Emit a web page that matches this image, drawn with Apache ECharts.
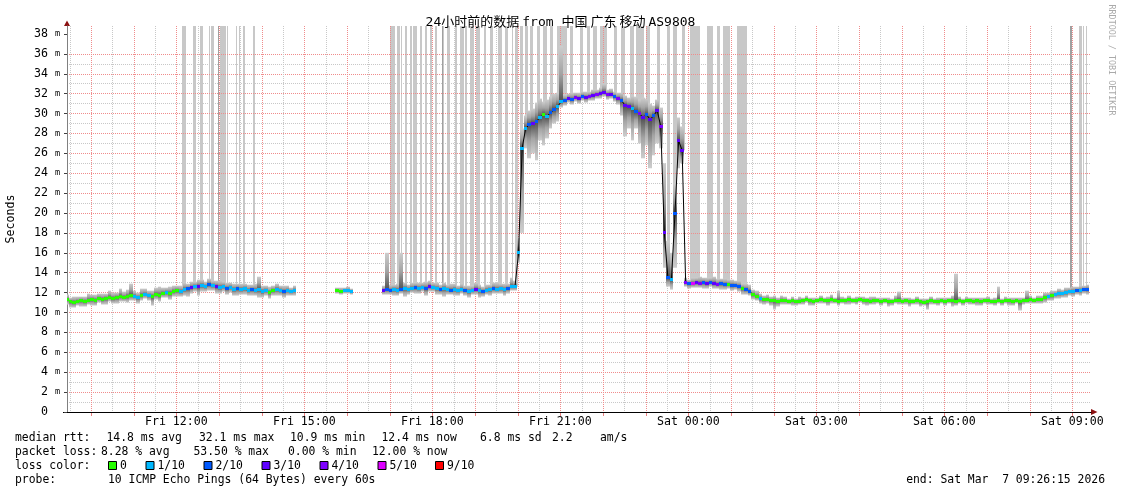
<!DOCTYPE html>
<html><head><meta charset="utf-8">
<script src="https://cdn.jsdelivr.net/npm/echarts@6/dist/echarts.min.js"></script>
<style>html,body{margin:0;padding:0;background:#fff}#c{width:1121px;height:494px}</style>
</head><body><div id="c"></div>
<script>
// ---- time frame (hours since Fri 00:00) ----
const START = 9.4375;          // Fri 09:26:15
const END = 33.4375;           // Sat 09:26:15
const STEP = 1 / 12;           // 5 minute samples
const Y_MAX = 38.8;

// ---- median rtt (ms), one value per 5 minutes ----
const median = [
11.3,11.1,11.0,11.1,11.2,11.1,11.2,11.3,11.2,11.4,
11.3,11.4,11.5,11.4,11.5,11.6,11.5,11.6,11.7,11.6,
11.5,11.7,11.8,11.7,11.6,11.8,11.7,11.9,12.0,11.9,
12.1,12.2,12.1,12.3,12.4,12.5,12.6,12.6,12.7,12.6,
12.8,12.7,12.6,12.5,12.6,12.4,12.5,12.3,12.4,12.3,
12.4,12.2,12.3,12.2,12.3,12.1,12.2,12.0,12.2,12.3,
12.2,12.1,12.2,12.1,12.2,null,null,null,null,null,
null,null,null,null,null,null,12.2,12.1,12.2,12.2,
12.1,null,null,null,null,null,null,null,null,12.2,
12.3,12.2,12.3,12.2,12.3,12.4,12.3,12.4,12.5,12.4,
12.5,12.4,12.6,12.5,12.4,12.3,12.4,12.3,12.2,12.3,
12.2,12.3,12.2,12.1,12.2,12.3,12.2,12.1,12.2,12.3,
12.4,12.3,12.4,12.3,12.4,12.6,12.6,16.0,26.5,28.5,
28.9,29.0,29.2,29.6,29.9,29.7,30.1,30.4,30.7,31.2,
31.3,31.5,31.4,31.6,31.5,31.7,31.6,31.7,31.8,31.9,
32.0,32.1,31.9,31.9,31.7,31.5,31.3,30.8,30.7,30.5,
30.2,30.0,29.6,29.9,29.4,29.8,30.3,28.7,18.0,13.5,
13.3,20.0,27.3,26.3,13.0,12.9,12.9,13.0,12.9,13.0,
12.9,13.0,12.9,12.8,12.9,12.8,12.8,12.7,12.7,12.6,
12.4,12.3,12.1,11.8,11.6,11.4,11.3,11.3,11.2,11.2,
11.1,11.2,11.2,11.1,11.2,11.1,11.1,11.2,11.3,11.2,
11.1,11.2,11.3,11.2,11.2,11.3,11.2,11.1,11.2,11.2,
11.3,11.2,11.2,11.3,11.2,11.2,11.1,11.2,11.2,11.1,
11.2,11.1,11.1,11.2,11.2,11.1,11.2,11.1,11.1,11.2,
11.1,11.0,11.1,11.2,11.1,11.1,11.2,11.1,11.2,11.2,
11.1,11.2,11.1,11.2,11.2,11.1,11.2,11.1,11.2,11.2,
11.1,11.1,11.2,11.1,11.2,11.2,11.1,11.2,11.1,11.2,
11.2,11.3,11.2,11.3,11.3,11.5,11.6,11.7,11.8,11.9,
11.9,12.0,12.1,12.1,12.2,12.2,12.3,12.3,null
];

// ---- smoke spread above / below the median (ms) ----
const smokeUp = [
0.5,0.4,0.6,0.5,0.4,0.5,0.7,0.5,0.6,0.5,
0.6,0.5,0.7,0.6,0.5,0.8,0.6,0.7,1.2,0.6,
0.5,0.7,0.6,0.5,0.6,0.7,0.9,0.6,0.5,0.7,
0.6,0.5,0.6,0.7,0.5,0.6,0.5,0.7,0.6,0.5,
0.6,0.5,0.6,0.7,0.5,0.6,0.5,0.6,0.5,0.6,
0.5,0.6,0.5,0.7,1.3,0.6,0.5,0.6,0.5,0.6,
0.5,0.6,0.5,0.4,0.5,null,null,null,null,null,
null,null,null,null,null,null,0.3,0.4,0.3,0.4,
0.3,null,null,null,null,null,null,null,null,0.5,
3.7,0.6,0.5,0.7,3.7,0.6,0.5,0.6,0.5,0.6,
0.5,0.7,0.6,0.5,0.6,0.5,0.6,0.5,0.7,0.6,
0.5,0.6,0.5,0.6,0.5,0.7,0.6,0.5,0.6,0.5,
0.6,0.7,0.5,0.6,0.5,0.9,0.6,1.5,2.0,1.3,
1.4,1.5,1.9,1.9,1.3,1.7,1.6,1.6,1.4,5.6,
0.6,0.5,0.7,0.5,0.6,0.5,0.6,0.5,0.6,0.5,
0.6,0.9,0.5,0.6,0.5,0.6,0.8,1.0,0.9,1.3,
1.5,1.4,2.0,1.6,1.6,1.0,1.1,1.9,7.0,3.7,
2.7,3.0,2.3,2.4,0.5,0.4,0.6,0.5,0.7,0.5,
0.6,0.5,0.7,0.6,0.5,0.6,0.5,0.6,0.5,0.6,
0.5,0.6,0.7,0.5,0.6,0.5,0.4,0.5,0.4,0.5,
0.4,0.5,0.4,0.3,0.4,0.3,0.5,0.3,0.4,0.3,
0.4,0.3,0.4,0.3,0.4,0.5,0.3,1.1,0.4,0.3,
0.4,0.3,0.4,0.3,0.4,0.3,0.5,0.4,0.3,0.4,
0.3,0.4,0.3,0.5,0.9,0.4,0.3,0.4,0.3,0.4,
0.3,0.4,0.3,0.4,0.3,0.4,0.3,0.4,0.3,0.5,
2.8,0.4,0.3,0.4,0.3,0.4,0.3,0.4,0.3,0.4,
0.3,0.4,1.4,0.3,0.4,0.3,0.4,0.3,0.4,0.3,
1.0,0.4,0.3,0.4,0.4,0.5,0.4,0.5,0.4,0.5,
0.4,0.5,0.4,0.5,0.4,0.5,0.4,0.5,null
];
const smokeDown = [
0.5,0.6,0.5,0.4,0.6,0.5,0.4,0.6,0.5,0.4,
0.5,0.6,0.4,0.5,0.6,0.5,0.4,0.6,0.5,0.4,
0.6,0.5,0.4,0.5,0.9,0.5,0.6,0.4,0.5,0.6,
0.5,0.6,0.5,0.6,0.8,0.6,0.5,0.9,0.6,0.5,
0.6,0.5,0.7,0.6,0.5,0.6,0.5,0.6,0.7,0.5,
0.6,0.5,0.6,0.5,0.8,0.6,0.5,0.6,0.5,0.6,
0.5,0.6,0.5,0.4,0.5,null,null,null,null,null,
null,null,null,null,null,null,0.3,0.3,0.3,0.3,
0.3,null,null,null,null,null,null,null,null,0.4,
0.5,0.4,0.6,0.5,0.4,0.8,0.5,0.4,0.6,0.5,
0.4,0.7,0.5,0.4,0.6,0.5,0.8,0.5,0.4,0.6,
0.5,0.4,0.5,0.6,0.4,0.5,0.7,0.5,0.4,0.6,
0.5,0.4,0.5,0.6,0.5,0.4,0.4,1.0,8.5,2.0,
3.4,3.0,3.9,2.3,3.1,2.2,1.6,1.4,1.5,0.6,
0.5,0.4,0.5,0.4,0.5,0.4,0.5,0.4,0.5,0.4,
0.5,0.4,0.5,0.4,0.5,0.6,1.5,3.1,2.2,3.2,
1.7,3.0,4.1,3.1,4.9,4.0,3.3,2.2,3.5,0.9,
1.0,5.5,2.8,1.3,0.4,0.5,0.4,0.5,0.4,0.6,
0.5,0.4,0.5,0.4,0.6,0.5,0.4,0.5,0.4,0.5,
0.6,0.5,0.4,0.5,0.4,0.5,0.5,0.4,0.5,0.9,
0.5,0.4,0.4,0.3,0.5,0.4,0.3,0.4,0.3,0.5,
0.4,0.3,0.4,0.3,0.5,0.4,0.3,0.4,0.3,0.4,
0.5,0.3,0.4,0.3,0.4,0.5,0.3,0.4,0.3,0.4,
0.3,0.5,0.4,0.3,0.4,0.3,0.4,0.5,0.3,0.4,
0.5,0.3,0.8,0.4,0.3,0.4,0.3,0.4,0.3,0.6,
0.4,0.3,0.4,0.3,0.4,0.3,0.5,0.4,0.3,0.4,
0.3,0.4,0.3,0.4,0.3,0.5,0.4,0.3,0.9,0.4,
0.3,0.4,0.3,0.4,0.4,0.5,0.4,0.5,0.4,0.5,
0.4,0.5,0.4,0.5,0.4,0.5,0.4,0.5,null
];

// ---- lost pings out of 10 per sample (loss colour) ----
const loss = [
0,0,0,0,0,0,0,0,0,0,
0,0,0,0,0,0,0,0,0,1,
1,0,1,1,0,0,0,0,1,0,
0,0,1,1,2,3,1,3,1,1,
2,1,3,1,1,2,1,1,2,1,
1,1,2,1,1,1,1,0,0,1,
1,2,1,1,1,null,null,null,null,null,
null,null,null,null,null,null,0,0,1,1,
1,null,null,null,null,null,null,null,null,3,
2,2,1,1,2,1,1,1,2,1,
1,2,3,1,1,2,1,1,2,1,
1,1,2,1,1,3,1,2,1,1,
2,1,1,1,2,1,1,1,1,1,
2,3,2,1,0,1,2,2,1,1,
2,3,2,4,3,2,3,4,3,4,
3,3,4,3,2,4,2,3,3,1,
2,4,3,2,3,2,3,4,3,2,
1,2,3,3,4,2,5,3,4,2,
3,2,3,4,2,2,0,2,2,2,
0,2,2,0,0,1,0,0,0,0,
0,0,0,0,0,0,0,0,0,0,
0,0,0,0,0,0,0,0,0,0,
0,0,0,0,0,0,0,0,0,0,
0,0,0,0,0,0,0,0,0,0,
0,0,0,0,0,0,0,0,0,0,
0,0,0,0,0,0,0,0,0,0,
0,0,0,0,0,0,0,0,0,0,
0,0,0,0,0,0,1,0,1,1,
1,1,1,1,2,1,2,2,null
];

// ---- periods with lost pings (full height smoke), [from, to, darker] ----
const lossBars = [
['Fri 12:08','Fri 12:13',0],['Fri 12:23','Fri 12:28',0],['Fri 12:33','Fri 12:37',0],
['Fri 12:46','Fri 12:48',0],['Fri 12:49','Fri 12:53',0],['Fri 12:58','Fri 13:00',1],
['Fri 13:01','Fri 13:10',0],['Fri 13:11','Fri 13:12',0],['Fri 13:24','Fri 13:26',0],
['Fri 13:28','Fri 13:30',0],['Fri 13:34','Fri 13:36',0],['Fri 13:48','Fri 13:50',0],
['Fri 17:00','Fri 17:08',0],['Fri 17:11','Fri 17:14',0],['Fri 17:16','Fri 17:18',0],
['Fri 17:22','Fri 17:24',0],['Fri 17:28','Fri 17:31',0],['Fri 17:33','Fri 17:38',0],
['Fri 17:43','Fri 17:45',0],['Fri 17:50','Fri 17:52',0],['Fri 17:57','Fri 18:00',0],
['Fri 18:04','Fri 18:06',0],['Fri 18:13','Fri 18:16',0],['Fri 18:14','Fri 18:15',1],
['Fri 18:20','Fri 18:25',0],['Fri 18:32','Fri 18:35',0],['Fri 18:39','Fri 18:44',0],
['Fri 18:46','Fri 18:49',0],['Fri 18:53','Fri 18:58',0],['Fri 19:02','Fri 19:07',0],
['Fri 19:12','Fri 19:16',0],['Fri 19:21','Fri 19:26',0],['Fri 19:33','Fri 19:38',0],
['Fri 19:42','Fri 19:47',0],['Fri 19:52','Fri 19:54',0],['Fri 19:56','Fri 20:01',0],
['Fri 20:03','Fri 20:08',0],['Fri 20:11','Fri 20:15',0],['Fri 20:17','Fri 20:22',0],
['Fri 20:27','Fri 20:31',0],['Fri 20:36','Fri 20:41',0],['Fri 20:46','Fri 20:50',0],
['Fri 20:55','Fri 21:09',0],['Fri 21:14','Fri 21:18',0],['Fri 21:28','Fri 21:32',0],
['Fri 21:37','Fri 21:42',0],['Fri 21:46','Fri 21:51',0],['Fri 21:56','Fri 22:05',0],
['Fri 22:15','Fri 22:19',0],['Fri 22:26','Fri 22:31',0],['Fri 22:38','Fri 22:43',0],
['Fri 22:47','Fri 22:57',0],['Fri 23:01','Fri 23:06',0],['Fri 23:16','Fri 23:20',0],
['Fri 23:30','Fri 23:34',0],['Fri 23:39','Fri 23:44',0],['Fri 23:51','Fri 23:55',0],
['Sat 00:02','Sat 00:16',0],['Sat 00:26','Sat 00:35',0],['Sat 00:40','Sat 00:45',0],
['Sat 00:49','Sat 00:59',0],['Sat 01:08','Sat 01:22',0],
['Sat 08:57','Sat 08:59',1],['Sat 09:09','Sat 09:13',0],['Sat 09:15','Sat 09:17',0],
['Sat 09:19','Sat 09:21',0]
];

// ---- axes ----
const hourTicks = [10,11,12,13,14,15,16,17,18,19,20,21,22,23,24,25,26,27,28,29,30,31,32,33];
const halfHourTicks = [9.5,10.5,11.5,12.5,13.5,14.5,15.5,16.5,17.5,18.5,19.5,20.5,21.5,22.5,23.5,24.5,25.5,26.5,27.5,28.5,29.5,30.5,31.5,32.5];
const xLabelHours = [12,15,18,21,24,27,30,33];
const yMajor = [0,2,4,6,8,10,12,14,16,18,20,22,24,26,28,30,32,34,36,38];
const yMinor = [1,3,5,7,9,11,13,15,17,19,21,23,25,27,29,31,33,35,37];

// ---- legend ----
const lossLevels = [0,1,2,3,4,5,9];
const lossLabels = ['0','1/10','2/10','3/10','4/10','5/10','9/10'];
const lossColors = ['#26ff00','#00b8ff','#0059ff','#5e00ff','#7e00ff','#dd00ff','#ff0000'];
const titleText = '24小时前的数据{s| }from 中国{s| }广东{s| }移动{s| }AS9808';
const statRows = [
  ['median rtt:','14.8 ms avg','32.1 ms max','10.9 ms min','12.4 ms now','6.8 ms sd','2.2','am/s'],
  ['packet loss:','8.28 % avg','53.50 % max','0.00 % min','12.00 % now'],
  ['loss color:'],
  ['probe:','10 ICMP Echo Pings (64 Bytes) every 60s']
];
const endText = 'end: Sat Mar  7 09:26:15 2026';

// ---------------------------------------------------------------
[median, smokeUp, smokeDown, loss].forEach((a, k) => {
  if (a.length !== 289) throw new Error('array ' + k + ' has length ' + a.length);
});

const MONO = '"DejaVu Sans Mono", "Liberation Mono", monospace';
const MONO_CJK = '"DejaVu Sans Mono", "Noto Sans CJK SC", monospace';

function clock(s) {
  const [d, hm] = s.split(' ');
  const [h, m] = hm.split(':').map(Number);
  return (d === 'Sat' ? 24 : 0) + h + m / 60;
}
function medianAt(h) {
  const i = Math.round((h - START) / STEP);
  for (let d = 0; d < 8; d++) {
    for (const j of [i - d, i + d]) {
      if (j >= 0 && j < median.length && median[j] != null) return median[j];
    }
  }
  return 0;
}
function colorOfLoss(n) {
  const k = lossLevels.indexOf(n);
  return k >= 0 ? lossColors[k] : lossColors[6];
}
function hourLabel(h) {
  const day = h < 24 ? 'Fri' : 'Sat';
  const hh = String(Math.round(h) % 24).padStart(2, '0');
  return day + ' ' + hh + ':00';
}

const lineData = [], smokeData = [], dotData = [];
median.forEach((m, i) => {
  const t = START + i * STEP;
  lineData.push([t, m]);
  if (m == null) return;
  smokeData.push([t, m - smokeDown[i], m + smokeUp[i], m]);
  dotData.push([t, m, loss[i]]);
});
const barData = lossBars.map(([a, b, s]) => {
  const t0 = clock(a), t1 = clock(b);
  return [t0, t1, s, medianAt((t0 + t1) / 2)];
});
const vGridData = hourTicks.map(h => [h, 1]).concat(halfHourTicks.map(h => [h, 0]));

function clampX(x, cs) { return Math.min(cs.x + cs.width, Math.max(cs.x, x)); }

const chart = echarts.init(document.getElementById('c'), null, {renderer: 'canvas'});

const graphics = [];
graphics.push({type: 'text', x: 10.5, y: 219, rotation: Math.PI / 2,
  style: {text: 'Seconds', fontSize: 11.6, fontFamily: MONO, fill: '#000', align: 'center', verticalAlign: 'middle'}});
graphics.push({type: 'text', x: 1111, y: 60, rotation: -Math.PI / 2,
  style: {text: 'RRDTOOL / TOBI OETIKER', fontSize: 8.4, fontFamily: MONO, fill: '#aaaaaa', align: 'center', verticalAlign: 'middle'}});
graphics.push({type: 'polygon', shape: {points: [[64, 26], [70, 26], [67, 20.5]]}, style: {fill: '#8b1010'}});
graphics.push({type: 'polygon', shape: {points: [[1091, 409], [1091, 415], [1097.5, 412]]}, style: {fill: '#8b1010'}});
graphics.push({type: 'line', shape: {x1: 63, y1: 412.5, x2: 67, y2: 412.5}, style: {stroke: '#000', lineWidth: 1}});
const rowY = [438, 452, 466, 480];
const rowX = [
  [15, 106.5, 199, 290, 381.5, 480, 552, 600],
  [15, 101, 193.5, 288, 372],
  [15],
  [15, 108]
];
statRows.forEach((row, r) => {
  row.forEach((txt, k) => {
    graphics.push({type: 'text', x: rowX[r][k], y: rowY[r],
      style: {text: txt, fontSize: 11.4, fontFamily: MONO, fill: '#000', verticalAlign: 'middle'}});
  });
});
const squareX = [108, 145.5, 203.5, 261.5, 319.5, 377.5, 435];
lossLabels.forEach((lab, k) => {
  graphics.push({type: 'rect', shape: {x: squareX[k] + 0.5, y: 461.5, width: 8, height: 8},
    style: {fill: lossColors[k], stroke: '#000', lineWidth: 1}});
  graphics.push({type: 'text', x: squareX[k] + 12, y: 466,
    style: {text: lab, fontSize: 11.4, fontFamily: MONO, fill: '#000', verticalAlign: 'middle'}});
});
graphics.push({type: 'text', x: 1105, y: 480,
  style: {text: endText, fontSize: 11.4, fontFamily: MONO, fill: '#000', align: 'right', verticalAlign: 'middle'}});

const option = {
  animation: false,
  backgroundColor: '#ffffff',
  title: {
    text: titleText, left: 'center', top: 11,
    textStyle: {fontFamily: MONO_CJK, fontSize: 13, fontWeight: 'normal', color: '#000',
      rich: {s: {fontSize: 5, fontFamily: MONO}}}
  },
  grid: {left: 67, right: 30, top: 26, bottom: 82, outerBoundsMode: 'none'},
  xAxis: [{
    type: 'value', min: START, max: END, position: 'bottom', z: 2,
    axisLine: {show: true, onZero: false, lineStyle: {color: '#000', width: 1}},
    axisTick: {show: false},
    axisLabel: {customValues: xLabelHours, formatter: hourLabel, color: '#000', fontFamily: MONO, fontSize: 11.6, margin: 4},
    splitLine: {show: false},
    minorTick: {show: false}, minorSplitLine: {show: false}
  }],
  yAxis: [{
    type: 'value', min: 0, max: Y_MAX, position: 'left', z: 2,
    axisLine: {show: true, onZero: false, lineStyle: {color: '#808080', width: 1}},
    axisTick: {show: true, customValues: yMajor, length: 3, lineStyle: {color: '#404040'}},
    axisLabel: {customValues: yMajor, margin: 7, color: '#000',
      formatter: v => (v === 0 ? '{n|0 }{u| }' : '{n|' + v + ' }{u|m}'),
      rich: {n: {fontFamily: MONO, fontSize: 11.6, color: '#000'}, u: {fontFamily: MONO, fontSize: 8.5, color: '#000'}}},
    splitLine: {show: true, showMaxLine: false, lineStyle: {color: '#f08c8c', width: 1, type: [1, 1]}}
  }, {
    type: 'value', min: 0, max: Y_MAX, position: 'right', z: 1.9,
    axisLine: {show: false},
    axisTick: {show: false, customValues: yMinor},
    axisLabel: {show: false, customValues: yMinor},
    splitLine: {show: true, showMaxLine: false, lineStyle: {color: '#c8c8c8', width: 1, type: [1, 1]}}
  }],
  series: [{
    name: 'loss', type: 'custom', z: 1, silent: true,
    xAxisIndex: 0, yAxisIndex: 0,
    data: barData,
    encode: {x: [0, 1], y: 3},
    renderItem(params, api) {
      const s = api.value(0), e = api.value(1), shade = api.value(2), base = api.value(3);
      const a = api.coord([s, Y_MAX]), b = api.coord([e, base]);
      const cs = params.coordSys;
      const x0 = clampX(Math.round(a[0]), cs);
      const x1 = Math.max(x0 + 1, clampX(Math.round(b[0]), cs));
      return {type: 'rect', shape: {x: x0, y: a[1], width: x1 - x0, height: b[1] - a[1]},
        style: {fill: shade ? '#a0a0a0' : '#c8c8c8'}};
    }
  }, {
    name: 'vgrid', type: 'custom', z: 2, silent: true,
    xAxisIndex: 0, yAxisIndex: 0,
    data: vGridData,
    encode: {x: 0},
    renderItem(params, api) {
      const h = api.value(0), major = api.value(1);
      const top = api.coord([h, Y_MAX]), bot = api.coord([h, 0]);
      const x = Math.round(top[0]) + 0.5;
      const col = major ? '#f08c8c' : '#c8c8c8';
      const children = [{type: 'line', shape: {x1: x, y1: Math.round(top[1]), x2: x, y2: Math.round(bot[1])},
        style: {stroke: col, lineWidth: 1, lineDash: [1, 1]}}];
      if (major) children.push({type: 'line', shape: {x1: x, y1: Math.round(bot[1]) + 1, x2: x, y2: Math.round(bot[1]) + 4},
        style: {stroke: '#e88080', lineWidth: 1}});
      return {type: 'group', children};
    }
  }, {
    name: 'smoke', type: 'custom', z: 3, silent: true,
    xAxisIndex: 0, yAxisIndex: 0,
    data: smokeData,
    encode: {x: 0, y: [1, 2]},
    renderItem(params, api) {
      const t = api.value(0), lo = api.value(1), hi = api.value(2), md = api.value(3);
      const a = api.coord([t - STEP / 2, hi]), b = api.coord([t + STEP / 2, lo]);
      const cs = params.coordSys;
      const x0 = clampX(Math.round(a[0]), cs), x1 = clampX(Math.round(b[0]), cs);
      let p = (hi - md) / Math.max(0.001, hi - lo);
      p = Math.min(0.92, Math.max(0.08, p));
      return {type: 'rect', shape: {x: x0, y: a[1], width: Math.max(1, x1 - x0), height: Math.max(1, b[1] - a[1])},
        style: {fill: {type: 'linear', x: 0, y: 0, x2: 0, y2: 1, colorStops: [
          {offset: 0, color: '#cdcdcd'},
          {offset: p * 0.5, color: '#a4a4a4'},
          {offset: p, color: '#505050'},
          {offset: p + (1 - p) * 0.5, color: '#a4a4a4'},
          {offset: 1, color: '#cdcdcd'}]}}};
    }
  }, {
    name: 'median', type: 'line', z: 4, silent: true,
    xAxisIndex: 0, yAxisIndex: 0,
    data: lineData, showSymbol: false, symbol: 'none', connectNulls: false,
    lineStyle: {color: '#000', width: 1}
  }, {
    name: 'losscolor', type: 'custom', z: 5, silent: true,
    xAxisIndex: 0, yAxisIndex: 0,
    data: dotData,
    encode: {x: 0, y: 1},
    renderItem(params, api) {
      const t = api.value(0), md = api.value(1), l = api.value(2);
      const a = api.coord([t - STEP / 2, md]), b = api.coord([t + STEP / 2, md]);
      const cs = params.coordSys;
      const x0 = clampX(Math.round(a[0]), cs), x1 = clampX(Math.round(b[0]), cs);
      return {type: 'rect', shape: {x: x0, y: Math.round(a[1] - 1.5), width: Math.max(1, x1 - x0), height: 3},
        style: {fill: colorOfLoss(l)}};
    }
  }],
  graphic: graphics
};
chart.setOption(option);
</script>
</body></html>
